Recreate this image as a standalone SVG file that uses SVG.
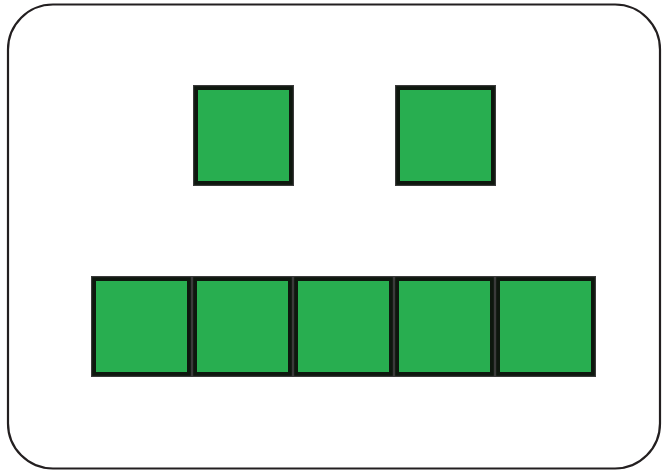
<svg xmlns="http://www.w3.org/2000/svg" width="662" height="471" viewBox="0 0 662 471">
<defs>
<style>
.frame{fill:#ffffff;stroke:#231f20;stroke-width:2.2}
.rim{fill:#3a3a3a}
.edge{fill:#0e170e}
.face{fill:#28ae50}
</style>
<g id="tile">
<rect class="rim" x="0" y="0" width="101" height="101"/>
<rect class="edge" x="1.2" y="1.2" width="98.6" height="98.6"/>
<rect class="face" x="5" y="5" width="91" height="91"/>
</g>
</defs>
<rect x="0" y="0" width="662" height="471" fill="#ffffff"/>
<rect class="frame" x="8" y="4.5" width="652" height="464" rx="45" ry="45"/>
<g id="top-1"><use href="#tile" x="193" y="85"/></g>
<g id="top-2"><use href="#tile" x="395" y="85"/></g>
<g id="bottom-1"><use href="#tile" x="91" y="276"/></g>
<g id="bottom-2"><use href="#tile" x="192" y="276"/></g>
<g id="bottom-3"><use href="#tile" x="293" y="276"/></g>
<g id="bottom-4"><use href="#tile" x="394" y="276"/></g>
<g id="bottom-5"><use href="#tile" x="495" y="276"/></g>
<g id="connectors"></g>
</svg>
